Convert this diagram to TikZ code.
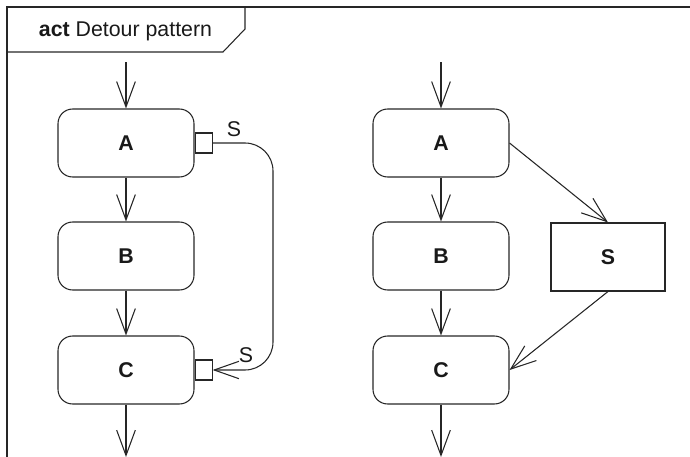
\documentclass[tikz,border=0pt]{standalone}
\usepackage{fontspec}
\setmainfont{Liberation Sans}
\usetikzlibrary{arrows.meta}
\begin{document}
\begin{tikzpicture}[x=0.75pt,y=-0.75pt,
  line width=0.8pt, draw=black!85,
  every node/.style={font=\fontsize{16}{19}\selectfont, text=black!90},
  act/.style={draw, rounded corners=11pt, minimum width=102pt, minimum height=51pt, inner sep=0pt, font=\fontsize{16}{19}\selectfont\bfseries},
  objbox/.style={draw, minimum width=85.5pt, minimum height=51pt, inner sep=0pt, font=\fontsize{16}{19}\selectfont\bfseries},
  pinbox/.style={draw, minimum width=12.75pt, minimum height=15pt, inner sep=0pt, anchor=west},
  flow/.style={-{Straight Barb[length=19pt,width=14pt]}},
  pinflow/.style={-{Straight Barb[length=18.5pt,width=13pt]}}
]
\useasboundingbox (0,0) rectangle (690,457);
% frame
\draw (690,7) -- (7,7) -- (7,460);
\draw (7,52) -- (223,52) -- (245,29) -- (245,7);
\node (title) at (125.5,31) {\textbf{act} Detour pattern};

% left diagram
\node[act] (A1) at (126,143) {A};
\node[act] (B1) at (126,256) {B};
\node[act] (C1) at (126,370) {C};
\node[pinbox] (pA) at (A1.east) {};
\node[pinbox] (pC) at (C1.east) {};
\coordinate (s1) at (126,62);
\coordinate (e1) at (126,457);
\draw[flow] (s1) -- (A1);
\draw[flow] (A1) -- (B1);
\draw[flow] (B1) -- (C1);
\draw[flow] (C1) -- (e1);
\draw[pinflow, rounded corners=21pt] (pA.east) -- (273,143) -- (273,370) -- (pC.east);
\node (lS1) at (234,129) {S};
\node (lS2) at (246,355) {S};

% right diagram
\node[act] (A2) at (441,143) {A};
\node[act] (B2) at (441,256) {B};
\node[act] (C2) at (441,370) {C};
\node[objbox] (S2) at (608,257) {S};
\coordinate (s2) at (441,62);
\coordinate (e2) at (441,457);
\draw[flow] (s2) -- (A2);
\draw[flow] (A2) -- (B2);
\draw[flow] (B2) -- (C2);
\draw[flow] (C2) -- (e2);
\draw[flow] (A2.east) -- (S2.north);
\draw[flow] (S2.south) -- (C2.east);
\end{tikzpicture}
\end{document}
